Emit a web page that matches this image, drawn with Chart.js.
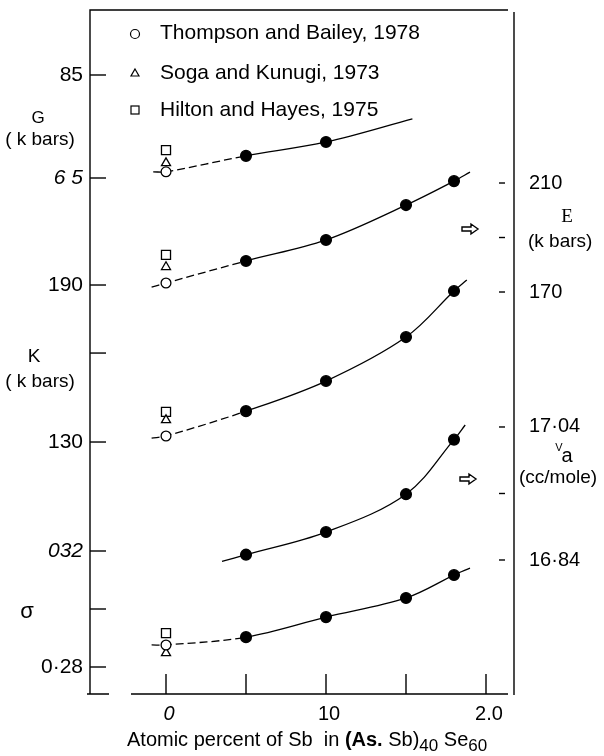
<!DOCTYPE html>
<html>
<head>
<meta charset="utf-8">
<script src="https://cdn.jsdelivr.net/npm/chart.js@4.4.0/dist/chart.umd.min.js"></script>
<style>
  html, body { margin: 0; padding: 0; background: #fff; }
  #wrap { width: 604px; height: 756px; }
</style>
</head>
<body>
<div id="wrap"><canvas id="chart" width="604" height="756"></canvas></div>
<script>
// atomic percent of Sb for the measured (filled) points
var sbPercent = [5, 10, 15, 18];
var shearModulus = [69.3, 72.0, null, null];      // G, k bars
var youngModulus = [181.4, 189.1, 201.9, 210.7];  // E, k bars
var bulkModulus = [141.8, 153.3, 170.1, 187.7];   // K, k bars
var atomicVolume = [16.848, 16.882, 16.939, 17.021]; // Va, cc/mole
var poisson = [0.2903, 0.2972, 0.3038, 0.3117];   // sigma

// literature values at 0 % Sb, in order G, E, K, sigma
var thompson = [66.2, 173.3, 132.3, 0.2876];
var soga = [67.9, 179.2, 138.4, 0.2848];
var hilton = [70.4, 183.6, 141.5, 0.2917];

// where the drawn curves start and stop [x, y]
var curveStart = [[-0.8, 66.2], [-0.9, 171.8], [-0.9, 131.5], [-0.9, 0.2876]];
var curveEnd = [[15.4, 76.5], [19.0, 214.0], [18.8, 191.9], [19.0, 0.3141]];
var vaStart = [3.5, 16.838];
var vaEnd = [18.7, 17.043];

// tick values and labels
var xTicks = [0, 5, 10, 15, 20];
var xTickLabels = ["0", "", "10", "", "2.0"];
var gTicks = [65, 85];
var gTickLabels = ["6 5", "85"];
var kTicks = [130, 164, 190];
var kTickLabels = ["130", "", "190"];
var sTicks = [0.28, 0.30, 0.32];
var sTickLabels = ["0\u00b728", "", "032"];
var eTicks = [170, 190, 210];
var eTickLabels = ["170", "", "210"];
var vTicks = [16.84, 16.94, 17.04];
var vTickLabels = ["16\u00b784", "", "17\u00b704"];

var legendNames = ["Thompson and Bailey, 1978", "Soga and Kunugi, 1973", "Hilton and Hayes, 1975"];

var SANS = '"Liberation Sans", Arial, sans-serif';
var SERIF = '"Liberation Serif", serif';

var curve = function (points, axis, dashed) {
  return {
    type: "line",
    data: points,
    yAxisID: axis,
    showLine: true,
    borderColor: "#000",
    borderWidth: 1.3,
    pointRadius: 0,
    fill: false,
    tension: 0.35,
    order: 2,
    segment: {
      borderDash: function (c) { return dashed && c.p1.parsed.x <= 5.01 ? [8, 4] : undefined; },
    },
  };
};

var dots = function (points, axis, style, radius, fillColor) {
  return {
    type: "scatter",
    data: points,
    yAxisID: axis,
    pointStyle: style,
    pointRadius: radius,
    pointBackgroundColor: fillColor,
    pointBorderColor: "#000",
    pointBorderWidth: 1.3,
    order: 1,
  };
};

var axes = ["yG", "yE", "yK", "yS"];
var measured = [shearModulus, youngModulus, bulkModulus, poisson];
var datasets = [];

for (var i = 0; i < 4; i++) {
  var filled = [];
  sbPercent.forEach(function (x, j) {
    if (measured[i][j] != null) filled.push({ x: x, y: measured[i][j] });
  });
  var pts = [{ x: curveStart[i][0], y: curveStart[i][1] }, { x: 0, y: thompson[i] }]
    .concat(filled)
    .concat([{ x: curveEnd[i][0], y: curveEnd[i][1] }]);
  datasets.push(curve(pts, axes[i], true));
  datasets.push(dots(filled, axes[i], "circle", 5.4, "#000"));
  datasets.push(dots([{ x: 0, y: thompson[i] }], axes[i], "circle", 4.9, "#fff"));
  datasets.push(dots([{ x: 0, y: soga[i] }], axes[i], "triangle", 5.2, "#fff"));
  datasets.push(dots([{ x: 0, y: hilton[i] }], axes[i], "rect", 6.4, "#fff"));
}

var vaPoints = sbPercent.map(function (x, j) { return { x: x, y: atomicVolume[j] }; });
datasets.push(curve([{ x: vaStart[0], y: vaStart[1] }].concat(vaPoints).concat([{ x: vaEnd[0], y: vaEnd[1] }]), "yV", false));
datasets.push(dots(vaPoints, "yV", "circle", 5.4, "#000"));

var drawText = function (ctx, text, x, y, font, align) {
  ctx.font = font;
  ctx.textAlign = align || "center";
  ctx.fillText(text, x, y);
};

var drawArrow = function (ctx, x, y) {
  ctx.beginPath();
  ctx.moveTo(x - 8, y - 2);
  ctx.lineTo(x + 1, y - 2);
  ctx.lineTo(x + 1, y - 5);
  ctx.lineTo(x + 8, y);
  ctx.lineTo(x + 1, y + 5);
  ctx.lineTo(x + 1, y + 2);
  ctx.lineTo(x - 8, y + 2);
  ctx.closePath();
  ctx.stroke();
};

var frame = {
  id: "frame",
  beforeDatasetsDraw: function (chart) {
    var ctx = chart.ctx, a = chart.chartArea;
    ctx.save();
    ctx.strokeStyle = "#000";
    ctx.lineWidth = 1.4;
    ctx.beginPath();
    ctx.moveTo(a.left, a.bottom);
    ctx.lineTo(a.left, a.top);
    ctx.lineTo(a.right - 6, a.top);
    ctx.moveTo(a.right, a.top + 2);
    ctx.lineTo(a.right, a.bottom + 1);
    ctx.moveTo(a.left - 3, a.bottom);
    ctx.lineTo(a.left + 19, a.bottom);
    ctx.moveTo(a.left + 41, a.bottom);
    ctx.lineTo(a.right - 6, a.bottom);
    ctx.stroke();
    ctx.restore();
  },
  afterDraw: function (chart) {
    var ctx = chart.ctx, a = chart.chartArea, s = chart.scales;
    ctx.save();
    ctx.fillStyle = "#000";
    ctx.strokeStyle = "#000";
    ctx.lineWidth = 1.4;
    ctx.textBaseline = "middle";

    // x ticks
    xTicks.forEach(function (v, j) {
      var x = s.x.getPixelForValue(v);
      ctx.beginPath();
      ctx.moveTo(x, a.bottom);
      ctx.lineTo(x, a.bottom - 20);
      ctx.stroke();
      drawText(ctx, xTickLabels[j], x + 3, a.bottom + 20, (v === 0 ? "italic " : "") + "20px " + SANS);
    });

    // left ticks
    [[s.yG, gTicks, gTickLabels], [s.yK, kTicks, kTickLabels], [s.yS, sTicks, sTickLabels]].forEach(function (t) {
      t[1].forEach(function (v, j) {
        var y = t[0].getPixelForValue(v);
        ctx.beginPath();
        ctx.moveTo(a.left, y);
        ctx.lineTo(a.left + 16, y);
        ctx.stroke();
        var italic = t[2][j] === "6 5" || t[2][j] === "032";
        drawText(ctx, t[2][j], a.left - 7, y, (italic ? "italic " : "") + "21px " + SANS, "right");
      });
    });

    // right ticks
    [[s.yE, eTicks, eTickLabels], [s.yV, vTicks, vTickLabels]].forEach(function (t) {
      t[1].forEach(function (v, j) {
        var y = t[0].getPixelForValue(v);
        ctx.beginPath();
        ctx.moveTo(a.right - 15, y);
        ctx.lineTo(a.right - 9, y);
        ctx.stroke();
        drawText(ctx, t[2][j], a.right + 15, y, "20px " + SANS, "left");
      });
    });

    // left axis titles
    drawText(ctx, "G", 38, 118, "17px " + SANS);
    drawText(ctx, "( k bars)", 40, 140, "19px " + SANS);
    drawText(ctx, "K", 34, 357, "19px " + SANS);
    drawText(ctx, "( k bars)", 40, 382, "19px " + SANS);
    drawText(ctx, "\u03c3", 27, 612, "22px " + SANS);

    // right axis titles
    drawText(ctx, "E", 567, 217, "19px " + SERIF);
    drawText(ctx, "(k bars)", 528, 242, "19px " + SANS, "left");
    drawText(ctx, "V", 559, 448, "11px " + SANS);
    drawText(ctx, "a", 567, 456, "20px " + SANS);
    drawText(ctx, "(cc/mole)", 519, 478, "19px " + SANS, "left");
    drawArrow(ctx, 470, 229);
    drawArrow(ctx, 468, 479);

    // legend
    var ly = [33, 73, 110];
    ctx.lineWidth = 1.2;
    ctx.beginPath();
    ctx.arc(135, ly[0] + 1, 4.5, 0, Math.PI * 2);
    ctx.stroke();
    ctx.beginPath();
    ctx.moveTo(135, ly[1] - 4);
    ctx.lineTo(139, ly[1] + 3);
    ctx.lineTo(131, ly[1] + 3);
    ctx.closePath();
    ctx.stroke();
    ctx.strokeRect(131, ly[2] - 4, 8, 8);
    legendNames.forEach(function (n, j) {
      drawText(ctx, n, 160, ly[j], "21px " + SANS, "left");
    });

    // x axis title with subscripts
    var runs = [
      ["Atomic percent of Sb  in ", "20px " + SANS, 0],
      ["(As.", "bold 20px " + SANS, 0],
      [" Sb)", "20px " + SANS, 0],
      ["40", "17px " + SANS, 5],
      [" Se", "20px " + SANS, 0],
      ["60", "17px " + SANS, 5],
    ];
    var x = 127;
    ctx.textAlign = "left";
    ctx.textBaseline = "alphabetic";
    runs.forEach(function (r) {
      ctx.font = r[1];
      ctx.fillText(r[0], x, 746 + r[2]);
      x += ctx.measureText(r[0]).width;
    });
    ctx.restore();
  },
};

var context = document.getElementById("chart").getContext("2d");
var chart = new Chart(context, {
  type: "scatter",
  data: { datasets: datasets },
  options: {
    responsive: false,
    animation: false,
    layout: { padding: { left: 90, top: 10, right: 90, bottom: 62 } },
    plugins: { legend: { display: false }, tooltip: { enabled: false } },
    scales: {
      x: { type: "linear", min: -4.75, max: 21.75, display: false },
      yG: { type: "linear", min: -35.19, max: 97.62, display: false },
      yE: { type: "linear", min: 22.48, max: 273.49, display: false },
      yK: { type: "linear", min: 33.7, max: 295.1, display: false },
      yV: { type: "linear", min: 16.6385, max: 17.667, display: false },
      yS: { type: "linear", min: 0.27069, max: 0.50655, display: false },
    },
  },
  plugins: [frame],
});
</script>
</body>
</html>
